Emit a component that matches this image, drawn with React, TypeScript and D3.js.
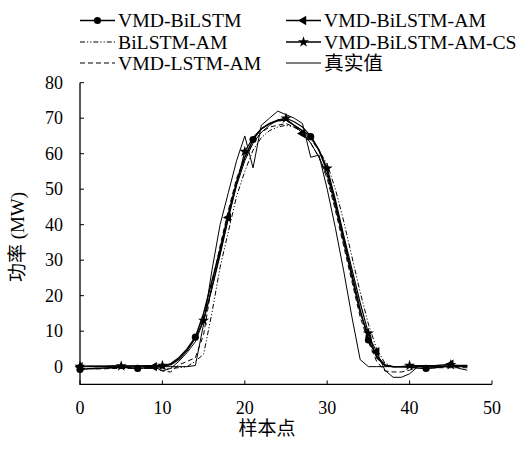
import React from "react";
import * as d3 from "d3";

const xs = d3.range(0, 48);

const trueVals = [0,0,0,0,0,0,0,0,0,0,0,0,0,0,0.3,12,27,40,49,58,65,56,68,70,72,71,70,68.5,59,59.6,50,39,27,14,2,0,0,0,0,0,0,0,0,0,0,0,0,0];
const vmdBiLSTM = [-0.8,-0.6,-0.5,-0.4,-0.3,-0.2,-0.3,-0.5,-0.3,-0.2,0,0.8,2.5,5,8.3,15,24,33,43,52,59,64,67,68.5,69.3,69.5,68,66.5,64.8,61,55,46,36,26,16,7.5,3,0.5,0,0,-0.2,-0.4,-0.5,-0.3,0,0.2,0.3,0.3];
const vmdBiLSTMAM = [0,0.2,0.2,0.2,0.2,0.2,0.2,0.1,0.1,0,-1.2,-0.5,1.5,4,7,13,22,32,42,51,58,63,66,68,69.5,69.8,68,65.7,63,59,54,45,35,25,15,9,4.2,-1,-3,-3,-2,0,0,0.3,0.5,0.7,-0.5,-1];
const biLSTMAM = [-0.5,-0.5,-0.4,-0.4,-0.3,-0.3,-0.3,-0.4,-0.5,-0.5,-0.6,-0.5,-0.3,0,1.5,3.5,15,28,38,48,55,61,64.5,66.5,67.5,68,67.5,66,64,61,57,50,41,31,21,12,5,1,0,0,0,0,0,0,0,0,0,0];
const vmdBiLSTMAMCS = [0,0.1,0.1,0.1,0.2,0.2,0.2,0.2,0.3,0.3,0.3,0.5,2,4.5,8,13,22,31.5,41.8,51.5,60.6,64.5,67,68.5,69.5,70,69,67.5,65,61,55.9,47,37,27.5,18,9.4,2.5,0.3,0,0,0.3,0.3,0.3,0.3,0.4,0.5,0.3,0.2];
const vmdLSTMAM = [-0.5,-0.5,-0.6,-0.6,-0.5,-0.5,-0.5,-0.5,-0.5,-0.5,-1.2,-1.5,0.5,1.5,2.5,9,23,34,44,53,59,63,66,67.5,68,68.5,67.5,66,63,59,53,44,34,24,14,7,1.5,-1.2,-1.5,-1.5,-1,0,-0.3,-0.3,-0.3,-0.3,-0.3,-0.3];

const xTicks = [0, 10, 20, 30, 40, 50];
const yTicks = [0, 10, 20, 30, 40, 50, 60, 70, 80];

const seriesNames = ["VMD-BiLSTM", "BiLSTM-AM", "VMD-LSTM-AM", "VMD-BiLSTM-AM", "VMD-BiLSTM-AM-CS", "真实值"];

const FONT = "'Liberation Serif', 'Times New Roman', 'Noto Sans CJK SC', serif";

type Marker = "circle" | "triangle" | "star" | null;

export default function App() {
  const W = 519, H = 450;
  const x = d3.scaleLinear().domain([0, 50]).range([80, 492]);
  const y = d3.scaleLinear().domain([-5, 80]).range([384.4, 82.7]);

  const series: { name: string; vals: number[]; dash?: string; width: number; marker: Marker; every: number }[] = [
    { name: seriesNames[5], vals: trueVals, width: 1, marker: null, every: 0 },
    { name: seriesNames[1], vals: biLSTMAM, dash: "5,2,1.2,2,1.2,2", width: 1, marker: null, every: 0 },
    { name: seriesNames[2], vals: vmdLSTMAM, dash: "5,3", width: 1, marker: null, every: 0 },
    { name: seriesNames[3], vals: vmdBiLSTMAM, width: 1, marker: "triangle", every: 9 },
    { name: seriesNames[4], vals: vmdBiLSTMAMCS, width: 1.2, marker: "star", every: 5 },
    { name: seriesNames[0], vals: vmdBiLSTM, width: 1.5, marker: "circle", every: 7 },
  ];

  const line = d3.line<number>().x((_, i) => x(xs[i])).y((v) => y(v));

  const markerPath = (m: Marker) => {
    if (m === "circle") return d3.symbol(d3.symbolCircle, 40)()!;
    if (m === "star") return d3.symbol(d3.symbolStar, 38)()!;
    if (m === "triangle") return d3.symbol(d3.symbolTriangle, 38)()!;
    return "";
  };
  const markerTransform = (m: Marker, cx: number, cy: number) =>
    m === "triangle" ? `translate(${cx},${cy}) rotate(-90)` : `translate(${cx},${cy})`;

  const legend: { name: string; dash?: string; marker: Marker; col: number; row: number; width: number }[] = [
    { name: seriesNames[0], marker: "circle", col: 0, row: 0, width: 1.5 },
    { name: seriesNames[1], marker: null, dash: "5,2,1.2,2,1.2,2", col: 0, row: 1, width: 1 },
    { name: seriesNames[2], marker: null, dash: "5,3", col: 0, row: 2, width: 1 },
    { name: seriesNames[3], marker: "triangle", col: 1, row: 0, width: 1.5 },
    { name: seriesNames[4], marker: "star", col: 1, row: 1, width: 1.5 },
    { name: seriesNames[5], marker: null, col: 1, row: 2, width: 1 },
  ];
  const colX = [80, 286];
  const rowY = [20.5, 42, 63];

  return (
    <svg width={W} height={H} style={{ position: "absolute", left: 0, top: 0, background: "#fff" }} fontFamily={FONT}>
      <rect width={W} height={H} fill="#fff" />
      {/* axes */}
      <path d={`M${x(0)},${y(80)} V${y(-5)} H${x(50)}`} fill="none" stroke="#000" strokeWidth={1.3} />
      {yTicks.map((t) => (
        <g key={"y" + t}>
          <line x1={x(0)} x2={x(0) + 4} y1={y(t)} y2={y(t)} stroke="#000" strokeWidth={1} />
          <text x={63} y={y(t)} dy="0.35em" textAnchor="end" fontSize={18}>{t}</text>
        </g>
      ))}
      {xTicks.map((t) => (
        <g key={"x" + t}>
          <line x1={x(t)} x2={x(t)} y1={y(-5)} y2={y(-5) - 4} stroke="#000" strokeWidth={1} />
          <text x={x(t)} y={414} textAnchor="middle" fontSize={18}>{t}</text>
        </g>
      ))}
      <text x={267} y={435} textAnchor="middle" fontSize={19}>样本点</text>
      <text transform={`translate(24,237) rotate(-90)`} textAnchor="middle" fontSize={19}>功率 (MW)</text>

      {/* series */}
      {series.map((s) => (
        <g key={s.name}>
          <path d={line(s.vals)!} fill="none" stroke="#000" strokeWidth={s.width} strokeDasharray={s.dash} strokeLinejoin="round" />
          {s.marker &&
            s.vals.map((v, i) =>
              i % s.every === 0 ? (
                <path key={i} d={markerPath(s.marker)} transform={markerTransform(s.marker, x(xs[i]), y(v))} fill="#000" />
              ) : null
            )}
        </g>
      ))}

      {/* legend */}
      {legend.map((l) => {
        const lx = colX[l.col];
        const ly = rowY[l.row];
        return (
          <g key={"lg" + l.name}>
            <line x1={lx} x2={lx + 35} y1={ly} y2={ly} stroke="#000" strokeWidth={l.width} strokeDasharray={l.dash} />
            {l.marker && <path d={markerPath(l.marker)} transform={markerTransform(l.marker, lx + 17.5, ly)} fill="#000" />}
            <text x={lx + 38} y={ly} dy="0.35em" fontSize={19.7}>{l.name}</text>
          </g>
        );
      })}
    </svg>
  );
}
